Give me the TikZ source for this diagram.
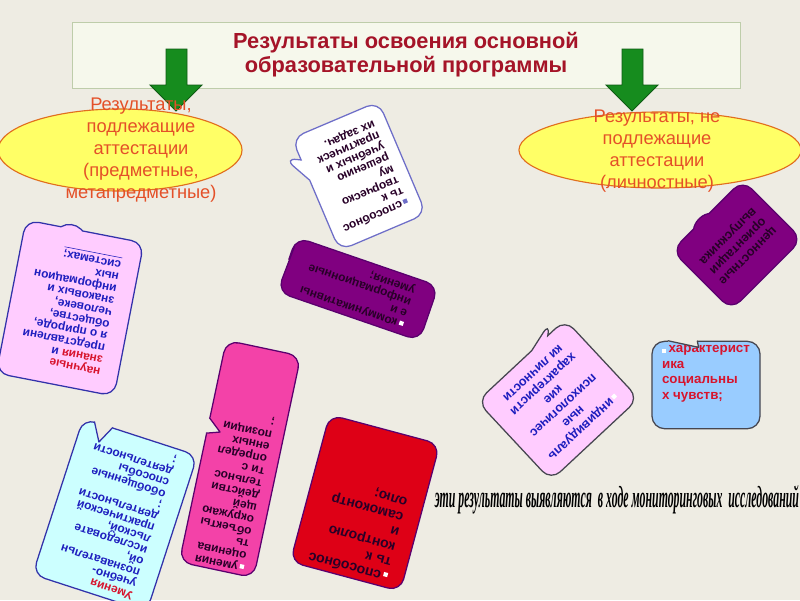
\documentclass[tikz,border=0pt]{standalone}
\usepackage{fontspec}
\setmainfont{Liberation Sans}
\newfontfamily\cursivefont{Liberation Serif}
\usepackage{graphicx}
\usetikzlibrary{shapes,shapes.callouts,calc,positioning}

\definecolor{bgcol}{RGB}{238,236,227}
\definecolor{titleFill}{RGB}{246,248,236}
\definecolor{titleLine}{RGB}{190,205,170}
\definecolor{titleText}{RGB}{165,20,40}
\definecolor{ellFill}{RGB}{255,255,102}
\definecolor{ellLine}{RGB}{225,110,30}
\definecolor{ellText}{RGB}{228,80,40}
\definecolor{arrowFill}{RGB}{22,140,30}
\definecolor{arrowLine}{RGB}{15,90,20}
\definecolor{pinkFill}{RGB}{255,204,255}
\definecolor{purpleFill}{RGB}{128,0,128}
\definecolor{purpleLine}{RGB}{90,0,110}
\definecolor{cyanFill}{RGB}{204,255,255}
\definecolor{hotFill}{RGB}{243,66,168}
\definecolor{redFill}{RGB}{222,0,22}
\definecolor{skyFill}{RGB}{153,204,255}
\definecolor{blueLine}{RGB}{50,50,170}
\definecolor{lilacLine}{RGB}{110,110,200}
\definecolor{greyLine}{RGB}{70,70,80}
\definecolor{blueText}{RGB}{30,30,190}
\definecolor{redText}{RGB}{215,20,45}
\definecolor{darkText}{RGB}{40,0,40}

\newcommand{\blt}[1][white]{\textcolor{#1}{\rule{3pt}{3pt}}\,}
% notch cut into a side of a bubble: node, corner, corner, from, to, depth, colour
\newcommand{\cutnotch}[7]{%
	\path ($(#1.#2)!#4!(#1.#3)$) coordinate (nA)
	      ($(#1.#2)!#5!(#1.#3)$) coordinate (nB)
	      ($(nB)!#6!(#1.center)$) coordinate (nT);
	\draw[bgcol, line width=2pt] (nA) -- (nB);
	\fill[bgcol] (nA) -- (nT) -- (nB) -- cycle;
	\draw[#7, line width=0.9pt, line join=round] (nA) -- (nT) -- (nB);}

\begin{document}
\begin{tikzpicture}[x=0.025cm, y=0.025cm,
	my title/.style = {draw=titleLine, fill=titleFill,
                   minimum width=16.7cm, minimum height=1.65cm,
                   align=center, text=titleText,
                   font=\fontsize{15.5}{17}\selectfont\bfseries},
	my ellipse/.style = {ellipse, draw=ellLine, fill=ellFill, line width=0.8pt},
	ell text/.style = {align=center, text=ellText,
                   font=\fontsize{13}{15.6}\selectfont},
	my callout/.style = {rectangle callout, rounded corners=9pt, draw,
                   line width=0.9pt, inner sep=3pt, align=left,
                   callout pointer width=0.55cm,
                   font=\fontsize{8.5}{8.6}\selectfont\bfseries},
	my box/.style = {rectangle, rounded corners=9pt, draw,
                   line width=0.9pt, inner sep=3pt, align=left},
	down block/.pic = {
		\draw[fill=arrowFill, draw=arrowLine, line width=0.6pt]
			(-10,0) -- (11,0) -- (11,-36) -- (26,-36) -- (0,-62)
			-- (-26,-36) -- (-10,-36) -- cycle;}
	]
\fill[bgcol] (0,0) rectangle (800,-600);
\useasboundingbox (0,0) rectangle (800,-600);

\node[my title] (title) at (406,-55)
	{Результаты освоения основной\\образовательной программы};

\node[my ellipse, minimum width=6.1cm, minimum height=2.05cm] (attest) at (120,-150) {};
\node[my ellipse, minimum width=7.05cm, minimum height=1.9cm] (noAttest) at (660,-150) {};

\pic at (176,-49) {down block};
\pic at (632,-49) {down block};

\node[ell text] (attestTxt) at (141,-150)
	{Результаты,\\подлежащие\\аттестации\\(предметные,\\метапредметные)};
\node[ell text] (noAttestTxt) at (657,-151)
	{Результаты, не\\подлежащие\\аттестации\\(личностные)};

% upside-down callouts
\node[my callout, fill=white, draw=lilacLine, text=darkText, rotate=-157,
	minimum width=2.35cm, minimum height=3.05cm,
	callout absolute pointer={(284,-158)}] (creative) at (359,-176)
	{\blt[lilacLine]способнос\\ть к\\творческо\\му\\решению\\учебных и\\практическ\\их задач.};

\node[my callout, fill=pinkFill, draw=blueLine, text=blueText, rotate=169,
	minimum width=3cm, minimum height=3.9cm,
	callout absolute pointer={(72,-220)}] (sciKnow) at (70,-308)
	{\textcolor{redText}{научные}\\\textcolor{redText}{знания} и\\представлени\\я о природе,\\обществе,\\человеке,\\знаковых и\\информацион\\ных\\\underline{системах;}};

\node[my callout, fill=purpleFill, draw=purpleLine, text=darkText, rotate=161,
	minimum width=3.75cm, minimum height=1.45cm,
	callout absolute pointer={(297,-240)}] (commSkills) at (358,-289)
	{\blt коммуникативны\\е и\\информационные\\умения;};

\node[my box, fill=cyanFill, draw=blueLine, text=blueText, rotate=162,
	minimum width=3cm, minimum height=4.1cm,
	font=\fontsize{8.5}{8.4}\selectfont\bfseries] (learnSkills) at (115,-515)
	{\textcolor{redText}{Умения}\\учебно-\\познавательн\\ой,\\исследовате\\льской,\\практической\\деятельности\\;\\обобщенные\\способы\\деятельности\\;};
\cutnotch{learnSkills}{south east}{south west}{0.26}{0.1}{0.22}{blueLine}

\node[my box, fill=hotFill, draw=purpleLine, text=darkText, rotate=168,
	minimum width=1.9cm, text depth=45pt,
	font=\fontsize{8.5}{8.8}\selectfont\bfseries] (evalSkills) at (240,-459)
	{\blt умения\\оценива\\ть\\объекты\\окружаю\\щей\\действи\\тельнос\\ти с\\определ\\енных\\позиции\\;};
\cutnotch{evalSkills}{south east}{north east}{0.42}{0.35}{0.35}{purpleLine}

\node[my box, fill=redFill, draw=purpleLine, text=darkText, rotate=165,
	minimum width=2.85cm, text depth=40pt,
	font=\fontsize{10}{11}\selectfont\bfseries] (selfControl) at (365,-503)
	{\blt способнос\\ть к\\контролю\\и\\самоконтр\\олю;};

\node[my callout, fill=pinkFill, draw=greyLine, text=blueText, rotate=-137,
	align=center, minimum width=3cm, minimum height=2.7cm,
	callout absolute pointer={(550,-322)},
	font=\fontsize{9}{10.5}\selectfont\bfseries] (indivTraits) at (558,-400)
	{\blt индивидуаль\\ные\\психологичес\\кие\\характеристи\\ки личности};

\node[my box, fill=skyFill, draw=greyLine, text=redText,
	minimum width=2.7cm, text depth=18pt,
	font=\fontsize{9.5}{11}\selectfont\bfseries] (socFeel) at (706,-385)
	{\blt характерист\\ика\\социальны\\х чувств;};
\cutnotch{socFeel}{north west}{north east}{0.15}{0.42}{0.15}{greyLine}

\node[my callout, fill=purpleFill, draw=purpleLine, text=darkText, rotate=-135,
	align=center, minimum width=2.5cm, minimum height=2.1cm,
	callout absolute pointer={(695,-217)},
	font=\fontsize{9}{10}\selectfont\bfseries] (values) at (737,-245)
	{ценностные\\ориентации\\выпускника};

\node[inner sep=0pt, anchor=base] (monitor) at (617,-507)
	{\resizebox{9.1cm}{0.55cm}{\cursivefont\bfseries\itshape эти результаты выявляются\ \ в ходе мониторинговых\ \ исследований}};
\end{tikzpicture}
\end{document}
